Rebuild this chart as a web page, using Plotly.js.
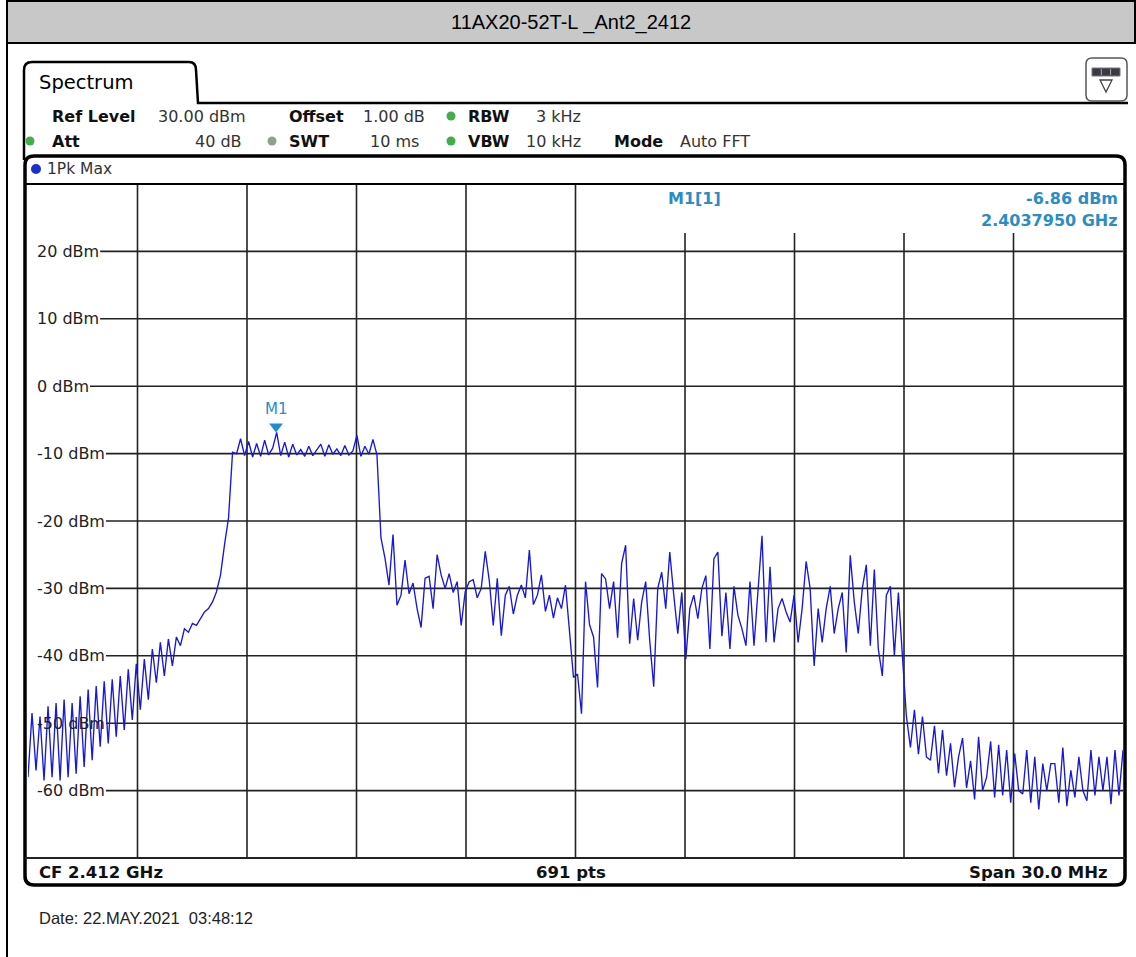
<!DOCTYPE html>
<html><head><meta charset="utf-8">
<script src="https://cdn.plot.ly/plotly-3.0.1.min.js"></script>
<style>html,body{margin:0;padding:0;background:#fff;}#chart{width:1136px;height:957px;}</style>
</head><body><div id="chart"></div>
<script>
// ---------------- data ----------------
const chartTitle = '11AX20-52T-L _Ant2_2412';
const startGHz = 2.397;
const stopGHz = 2.427;
const yMin = -70, yMax = 30;
const xGridVals = [2.400, 2.403, 2.406, 2.409, 2.412, 2.415, 2.418, 2.421, 2.424];
const yTickVals = [20, 10, 0, -10, -20, -30, -40, -50, -60];
const yTickLabels = ['20 dBm', '10 dBm', '0 dBm', '-10 dBm', '-20 dBm', '-30 dBm', '-40 dBm', '-50 dBm', '-60 dBm'];
const traceLevels = [
  -58, -48.5, -57, -49, -58.5, -47.5, -58, -47, -58.5, -46.5,
  -58, -47, -57.5, -46, -56.5, -45, -55.5, -44.5, -53.5, -43.8,
  -53, -43.5, -52, -43, -51, -42, -49.5, -41.2, -48, -40.5,
  -46.5, -39, -44, -38, -43, -37.5, -41.5, -37.2, -38.5, -36,
  -36.5, -35.2, -35.5, -34.5, -33.5, -33, -32, -30.5, -28, -23.5,
  -19.5,
  -9.8, -10, -7.8, -10.3, -8.2, -10.5, -8.5, -10.4, -8, -10.2,
  -9.2, -6.86, -10.3, -8.3, -10.5, -8.6, -10.2, -9.4, -10.4, -8.9,
  -10.3, -9.5, -8.6, -10.4, -8.7, -10.1, -9.3, -10.3, -8.8, -10.2,
  -9.6, -7.3, -10.4, -8.9, -10.1, -7.9, -10.2,
  -22.5, -25.5, -29.5,
  -22, -32.5, -31, -25.8, -30.8, -29.2, -33, -35.8, -28.5, -28.2,
  -33, -25, -28, -30, -27.8, -30.6, -29, -35.5, -30.5, -29,
  -28.7, -31.4, -30, -24.5, -28.8, -35.5, -28.5, -37, -31, -29.7,
  -33.8, -31, -29.5, -31.4, -24.3, -32.4, -31, -28, -33.4, -31,
  -34.4, -31.4, -33, -29.5, -36.7, -43.2, -42.7, -48.6, -29, -35.4,
  -37.2, -44.7, -27.8, -28.6, -33, -29, -37.3, -26.3,
  -23.6, -38.2, -31.5, -37.7, -32, -29, -37.7, -44.6, -30, -27.6,
  -33, -24.6, -31, -36.7, -30.6, -40.5, -33, -31, -34.5, -30,
  -28.1, -39, -25.6, -24.6, -37.1, -30.6, -39, -29.7, -34, -36,
  -38.5, -29, -38.5, -30, -22.2, -38, -26.8, -38, -33, -31.5,
  -33.5, -35, -31, -38, -33, -26, -30, -41.5, -33, -38,
  -33, -29.7, -36.7, -33, -30.6, -39.5, -25.1, -32, -36.7, -30,
  -26.5, -38.5, -27.2, -39, -43, -31, -29.7, -40, -30.6, -40,
  -49, -53.6, -48, -54.6, -49, -55, -55.5, -50.4, -57.4, -51,
  -57.8, -53, -59.5, -55, -52.2, -59.6, -55.6, -61.3, -52, -60,
  -58, -52.7, -61, -53.2, -60.7, -54, -61.8, -54.5, -60, -60.5,
  -54, -61.8, -55, -62.8, -56, -60, -56, -56, -61.8, -53.6,
  -62.3, -57, -61, -55, -60, -61.5, -54, -60.7, -55, -60,
  -55, -62, -54, -60.7, -54
];
const markerName = 'M1';
const markerFreqGHz = 2.4037950;
const markerLevelDbm = -6.86;
const infoRow1 = [['Ref Level', '30.00 dBm'], ['Offset', '1.00 dB'], ['RBW', '3 kHz']];
const infoRow2 = [['Att', '40 dB'], ['SWT', '10 ms'], ['VBW', '10 kHz'], ['Mode', 'Auto FFT']];
const traceLabel = '1Pk Max';
const centerLabel = 'CF 2.412 GHz';
const pointsLabel = '691 pts';
const spanLabel = 'Span 30.0 MHz';
const tabLabel = 'Spectrum';
const dateLabel = 'Date: 22.MAY.2021\u00a0 03:48:12';

// ---------------- geometry helpers (pixel -> paper) ----------------
const W = 1136, H = 957, PL = 28, PR = 1123, PT = 184, PB = 858;
const px = x => (x - PL) / (PR - PL);
const py = y => (PB - y) / (PB - PT);
const P = (x, y) => px(x) + ',' + py(y);
function rr(x0, y0, x1, y1, r) {
  return 'M ' + P(x0 + r, y0) + ' L ' + P(x1 - r, y0) + ' Q ' + P(x1, y0) + ' ' + P(x1, y0 + r) +
    ' L ' + P(x1, y1 - r) + ' Q ' + P(x1, y1) + ' ' + P(x1 - r, y1) +
    ' L ' + P(x0 + r, y1) + ' Q ' + P(x0, y1) + ' ' + P(x0, y1 - r) +
    ' L ' + P(x0, y0 + r) + ' Q ' + P(x0, y0) + ' ' + P(x0 + r, y0) + ' Z';
}
const FONT = 'DejaVu Sans';
const BLUE_TXT = '#2b8cc6';
const GRID = '#222222';

const cv = document.createElement('canvas').getContext('2d');
function textW(t, size, bold) { cv.font = (bold ? 'bold ' : '') + size + 'px "' + FONT + '"'; return cv.measureText(t).width; }

const shapes = [];
const ann = [];
function line(x0, y0, x1, y1, color, width) {
  shapes.push({type: 'line', xref: 'paper', yref: 'paper', x0: px(x0), y0: py(y0), x1: px(x1), y1: py(y1), line: {color: color, width: width}});
}
function dot(cx, cy, r, color) {
  shapes.push({type: 'circle', xref: 'paper', yref: 'paper', x0: px(cx - r), x1: px(cx + r), y0: py(cy + r), y1: py(cy - r), fillcolor: color, line: {width: 0}});
}
function txt(x, y, text, size, opts) {
  const o = Object.assign({xanchor: 'left', color: '#111', family: FONT}, opts || {});
  ann.push({xref: 'paper', yref: 'paper', x: px(x), y: py(y), text: text, showarrow: false,
    xanchor: o.xanchor, yanchor: 'middle', font: {family: o.family, size: size, color: o.color}});
}

// title bar + outer border
shapes.push({type: 'rect', xref: 'paper', yref: 'paper', x0: px(7), x1: px(1135), y0: py(1), y1: py(43), fillcolor: '#c8c8c8', line: {color: '#000', width: 2}, layer: 'below'});
line(7, 43, 7, 957, '#000', 2);
txt(571, 22, chartTitle, 20, {xanchor: 'center', family: 'Liberation Sans', color: '#000'});

// tab
shapes.push({type: 'path', xref: 'paper', yref: 'paper', path:
  'M ' + P(24, 160) + ' L ' + P(24, 70) + ' Q ' + P(24, 62) + ' ' + P(32, 62) + ' L ' + P(189, 62) + ' Q ' + P(196, 62) + ' ' + P(196, 70) + ' L ' + P(198, 103) + ' L ' + P(1128, 103),
  line: {color: '#000', width: 2.5}});
txt(37, 82, tabLabel, 19.5, {color: '#000'});
// icon
shapes.push({type: 'path', xref: 'paper', yref: 'paper', path: rr(1086, 58, 1127, 101, 6), fillcolor: '#fff', line: {color: '#555', width: 1.5}});
shapes.push({type: 'rect', xref: 'paper', yref: 'paper', x0: px(1092), x1: px(1120), y0: py(76), y1: py(68), fillcolor: '#3a3a44', line: {color: '#777', width: 1}});
line(1101.3, 69, 1101.3, 75, '#aaa', 1);
line(1110.6, 69, 1110.6, 75, '#aaa', 1);
shapes.push({type: 'path', xref: 'paper', yref: 'paper', path: 'M ' + P(1100, 80) + ' L ' + P(1112, 80) + ' L ' + P(1106, 92) + ' Z', line: {color: '#444', width: 1.3}});

// info rows
const r1x = {lab: [50, 287, 466], val: [248, 427, 583]};
infoRow1.forEach((p, i) => { txt(r1x.lab[i], 116, '<b>' + p[0] + '</b>', 16); txt(r1x.val[i], 116, p[1], 16, {xanchor: 'right', color: '#333'}); });
dot(451, 116, 4.5, '#43ad4a');
const r2lab = [50, 287, 466, 612], r2val = [244, 421, 583, null];
infoRow2.forEach((p, i) => {
  txt(r2lab[i], 141, '<b>' + p[0] + '</b>', 16);
  if (r2val[i] !== null) txt(r2val[i], 141, p[1], 16, {xanchor: 'right', color: '#333'});
  else txt(678, 141, p[1], 16, {color: '#333'});
});
dot(30, 141, 4.5, '#43ad4a');
dot(272, 141, 4.5, '#8fa08f');
dot(451, 141, 4.5, '#43ad4a');

// graph frame
shapes.push({type: 'path', xref: 'paper', yref: 'paper', path: rr(25, 156, 1125, 885, 9), line: {color: '#000', width: 3.5}});
line(25, 184, 1125, 184, '#000', 2);
line(25, 858, 1125, 858, '#222', 2);
dot(36, 169, 5, '#1a2fd0');
txt(45, 169, traceLabel, 15.5, {color: '#333'});

// grid
xGridVals.forEach(v => {
  shapes.push({type: 'line', xref: 'x', yref: 'paper', x0: v, x1: v, y0: 0, y1: v > 2.4125 ? py(233) : 1, line: {color: GRID, width: 1.6}, layer: 'below'});
});
yTickVals.forEach((v, i) => {
  const w = textW(yTickLabels[i], 16, false);
  shapes.push({type: 'line', xref: 'paper', yref: 'y', x0: px(35 + w + 3), x1: 1, y0: v, y1: v, line: {color: GRID, width: 1.6}, layer: 'below'});
  ann.push({xref: 'paper', yref: 'y', x: px(35), y: v, text: yTickLabels[i], showarrow: false, xanchor: 'left', yanchor: 'middle', font: {family: FONT, size: 16, color: '#222'}});
});

// marker label
ann.push({xref: 'x', yref: 'y', x: markerFreqGHz, y: markerLevelDbm, text: markerName, showarrow: false, xanchor: 'center', yanchor: 'bottom', yshift: 12, font: {family: FONT, size: 15, color: BLUE_TXT}});
txt(694, 198, '<b>' + markerName + '[1]</b>', 16, {xanchor: 'center', color: BLUE_TXT});
txt(1120, 198, '<b>' + markerLevelDbm.toFixed(2) + ' dBm</b>', 16, {xanchor: 'right', color: BLUE_TXT});
txt(1120, 221, '<b>' + markerFreqGHz.toFixed(7) + ' GHz</b>', 16, {xanchor: 'right', color: BLUE_TXT});

// footer
txt(37, 872, '<b>' + centerLabel + '</b>', 16.5);
txt(571, 872, '<b>' + pointsLabel + '</b>', 16.5, {xanchor: 'center'});
txt(1110, 872, '<b>' + spanLabel + '</b>', 16.5, {xanchor: 'right'});
txt(37, 918, dateLabel, 16.5, {family: 'Liberation Sans', color: '#222'});

// marker triangle: drawn on an overlaid axis shifted up so the tip sits on the marker level
const markerSize = 12;
const tipShift = (markerSize / 2) * (yMax - yMin) / (PB - PT);

const traces = [{
  type: 'scatter', mode: 'lines', name: traceLabel,
  x0: startGHz, dx: (stopGHz - startGHz) / (traceLevels.length - 1), y: traceLevels,
  line: {color: '#1818d8', width: 1.35}, hoverinfo: 'skip'
}, {
  type: 'scatter', mode: 'markers', name: markerName, yaxis: 'y2',
  x: [markerFreqGHz], y: [markerLevelDbm],
  marker: {symbol: 'triangle-down', size: markerSize, color: '#1a8fd6', line: {width: 0}},
  cliponaxis: false, hoverinfo: 'skip'
}];

const layout = {
  width: W, height: H, autosize: false,
  margin: {l: PL, r: W - PR, t: PT, b: H - PB, pad: 0},
  paper_bgcolor: '#ffffff', plot_bgcolor: 'rgba(0,0,0,0)',
  showlegend: false,
  xaxis: {range: [startGHz, stopGHz], visible: false, fixedrange: true},
  yaxis: {range: [yMin, yMax], visible: false, fixedrange: true},
  yaxis2: {range: [yMin - tipShift, yMax - tipShift], overlaying: 'y', visible: false, fixedrange: true},
  shapes: shapes, annotations: ann
};
Plotly.newPlot('chart', traces, layout, {staticPlot: true, displayModeBar: false});
</script></body></html>
